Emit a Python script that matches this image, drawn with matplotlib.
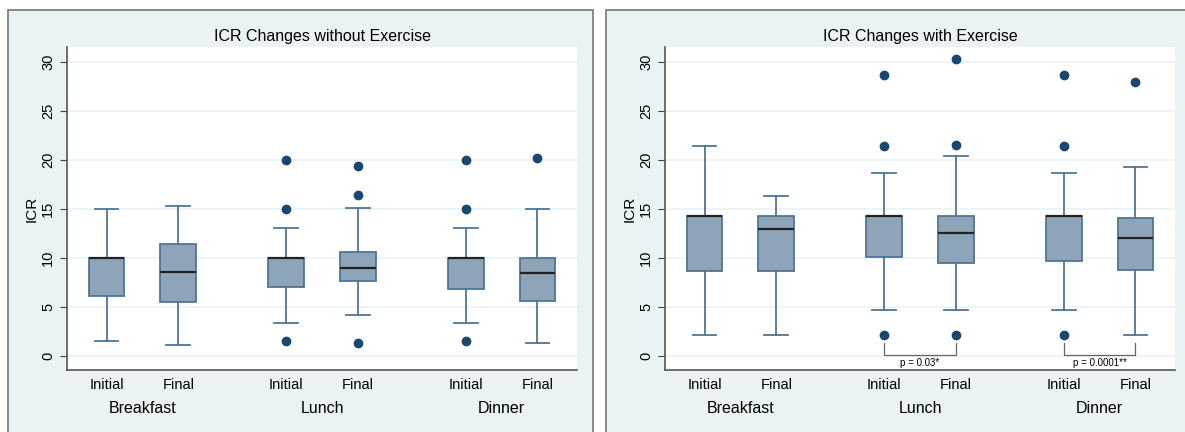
import matplotlib
matplotlib.use('Agg')
import matplotlib.pyplot as plt
from matplotlib.patches import Rectangle

plt.rcParams['font.family'] = ['Liberation Sans', 'DejaVu Sans']

# data
meals = ['Breakfast', 'Lunch', 'Dinner']
visits = ['Initial', 'Final']

# without exercise: order B-I, B-F, L-I, L-F, D-I, D-F
no_ex_whislo = [1.5, 1.05, 3.3, 4.15, 3.3, 1.3]
no_ex_q1 = [6.05, 5.5, 7.05, 7.65, 6.8, 5.55]
no_ex_med = [10.0, 8.5, 10.0, 8.95, 10.0, 8.4]
no_ex_q3 = [10.0, 11.45, 10.0, 10.6, 10.0, 10.0]
no_ex_whishi = [15.0, 15.3, 13.0, 15.1, 13.0, 15.0]
no_ex_fliers = [[], [], [20.0, 15.0, 1.5], [19.35, 16.45, 1.3], [20.0, 15.0, 1.5], [20.2]]

# with exercise
ex_whislo = [2.1, 2.1, 4.7, 4.7, 4.7, 2.1]
ex_q1 = [8.65, 8.65, 10.05, 9.5, 9.65, 8.75]
ex_med = [14.3, 12.9, 14.3, 12.55, 14.3, 12.0]
ex_q3 = [14.3, 14.25, 14.3, 14.25, 14.3, 14.05]
ex_whishi = [21.4, 16.35, 18.6, 20.4, 18.6, 19.3]
ex_fliers = [[], [], [28.6, 21.4, 2.1], [30.25, 21.55, 2.1], [28.6, 21.4, 2.1], [27.9]]

# significance brackets (meal index, label)
ex_sig = [(1, 'p = 0.03*'), (2, 'p = 0.0001**')]

positions = [1, 2, 3.5, 4.5, 6, 7]
bg = '#eaf2f3'
box_fc = '#8ea4b8'
edge = '#4f7596'
dot = '#1a476f'

fig = plt.figure(figsize=(11.85, 4.32), dpi=100)
fig.patch.set_facecolor('white')

# panel backgrounds
for x0, x1 in [(8, 593), (606, 1190)]:
    fig.patches.append(Rectangle((x0 / 1185, -0.01), (x1 - x0) / 1185, 426 / 432,
                                 transform=fig.transFigure, facecolor=bg,
                                 edgecolor='#777777', linewidth=1.2, zorder=-10))


def panel(left, title, whislo, q1, med, q3, whishi, fliers, sig):
    ax = fig.add_axes([left / 1185, 62 / 432, 510 / 1185, 323 / 432])
    ax.set_facecolor('white')
    stats = []
    for i in range(len(positions)):
        stats.append(dict(whislo=whislo[i], q1=q1[i], med=med[i], q3=q3[i],
                          whishi=whishi[i], fliers=fliers[i]))
    ax.bxp(stats, positions=positions, widths=0.5, patch_artist=True,
           boxprops=dict(facecolor=box_fc, edgecolor=edge, linewidth=1.3),
           medianprops=dict(color='#222222', linewidth=1.6),
           whiskerprops=dict(color=edge, linewidth=1.3),
           capprops=dict(color=edge, linewidth=1.3),
           capwidths=0.33,
           flierprops=dict(marker='o', markerfacecolor=dot, markeredgecolor=dot,
                           markersize=6))
    ax.set_xlim(0.45, 7.55)
    ax.set_ylim(-1.45, 31.5)
    ax.set_yticks(range(0, 31, 5))
    ax.yaxis.grid(True, color=bg, linewidth=1.2)
    ax.set_axisbelow(True)
    for lab in ax.get_yticklabels():
        lab.set_rotation(90)
        lab.set_va('center')
    ax.tick_params(axis='y', labelsize=10.5, color='#444444', length=5)
    ax.set_ylabel('ICR', fontsize=11, labelpad=2)
    ax.set_xticks([])
    for s in ['top', 'right']:
        ax.spines[s].set_visible(False)
    for s in ['left', 'bottom']:
        ax.spines[s].set_color('#555555')
        ax.spines[s].set_linewidth(1.2)
    ax.set_title(title, fontsize=11.5, pad=4)
    for i, p in enumerate(positions):
        ax.text(p, -0.025, visits[i % 2], transform=ax.get_xaxis_transform(),
                ha='center', va='top', fontsize=10.5)
    for j, m in enumerate(meals):
        xm = (positions[2 * j] + positions[2 * j + 1]) / 2
        ax.text(xm, -0.095, m, transform=ax.get_xaxis_transform(),
                ha='center', va='top', fontsize=11.5)
    for j, label in sig:
        xa, xb = positions[2 * j], positions[2 * j + 1]
        ax.plot([xa, xa, xb, xb], [1.3, 0.05, 0.05, 1.3], color='#666666', lw=0.9)
        ax.text((xa + xb) / 2, -0.2, label, ha='center', va='top', fontsize=7)
    return ax


panel(67, 'ICR Changes without Exercise', no_ex_whislo, no_ex_q1, no_ex_med,
      no_ex_q3, no_ex_whishi, no_ex_fliers, [])
panel(665, 'ICR Changes with Exercise', ex_whislo, ex_q1, ex_med,
      ex_q3, ex_whishi, ex_fliers, ex_sig)

fig.savefig('out.png', dpi=100, facecolor='white')
